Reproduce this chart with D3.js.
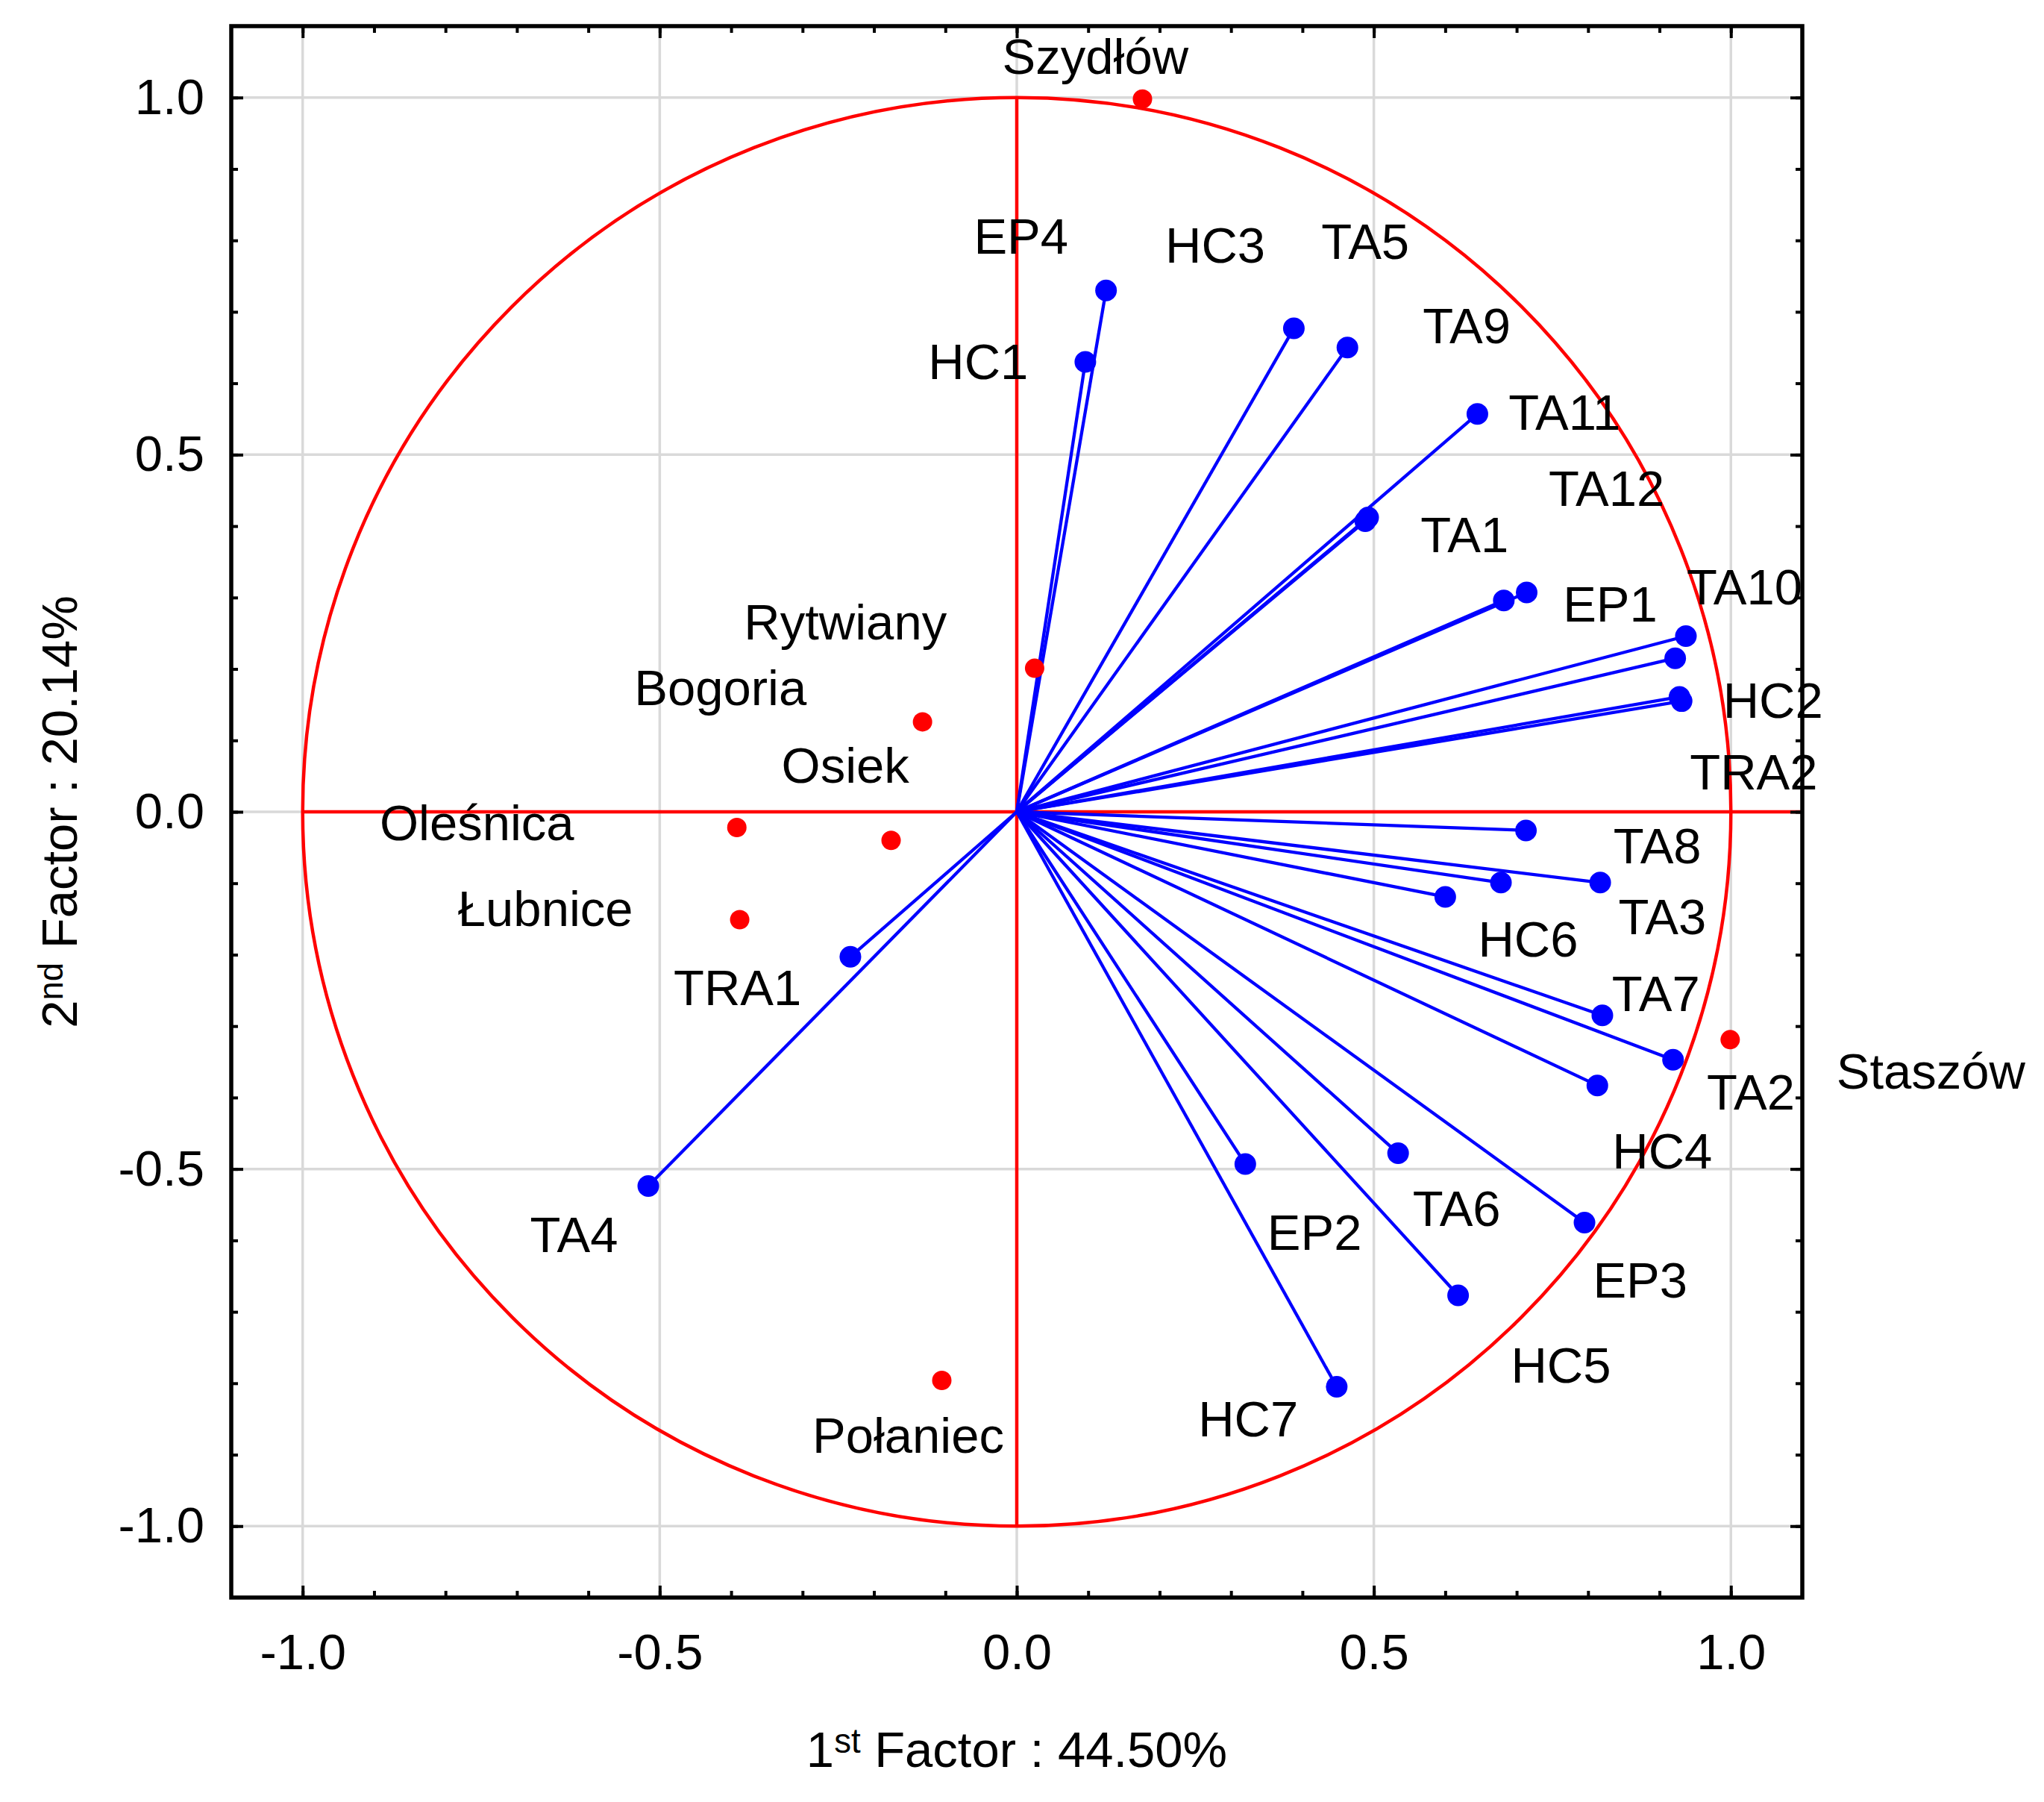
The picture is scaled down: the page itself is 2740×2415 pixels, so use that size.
<!DOCTYPE html>
<html>
<head>
<meta charset="utf-8">
<script src="https://cdn.jsdelivr.net/npm/d3@7"></script>
<style>
  body { margin: 0; background: #ffffff; }
  text { font-family: "Liberation Sans", Arial, Helvetica, sans-serif; fill: #000; }
</style>
</head>
<body>
<svg id="chart" width="2740" height="2415"></svg>
<script>
// ---------------- data ----------------
// Variables (factor loadings) – blue vectors
const varNames  = ["EP4","HC1","HC3","TA5","TA11","TA1","TA9","TA12","EP1","TA10","HC2","TRA2","",
                   "TA8","TA3","HC6","","TA7","TA2","HC4","TA6","EP2","EP3","HC5","HC7","TRA1","TA4"];
const varX      = [0.125,0.096,0.388,0.463,0.645,0.492,0.488,0.682,0.714,0.937,0.922,0.928,0.931,
                   0.713,0.817,0.678,0.600,0.820,0.919,0.813,0.534,0.320,0.795,0.618,0.448,-0.233,-0.516];
const varY      = [0.730,0.630,0.677,0.650,0.557,0.412,0.407,0.296,0.307,0.246,0.215,0.161,0.155,
                   -0.026,-0.099,-0.099,-0.119,-0.285,-0.347,-0.383,-0.478,-0.493,-0.575,-0.677,-0.805,-0.203,-0.524];
// where the plotting program put each variable's label (data units)
const varLabelX = [0.006,-0.054,0.278,0.488,0.767,0.627,0.630,0.826,0.831,1.019,1.059,1.032,0,
                   0.897,0.904,0.716,0,0.895,1.028,0.904,0.616,0.417,0.873,0.762,0.324,-0.391,-0.620];
const varLabelY = [0.807,0.631,0.794,0.799,0.560,0.389,0.681,0.453,0.292,0.316,0.157,0.057,0,
                   -0.047,-0.146,-0.177,0,-0.254,-0.392,-0.474,-0.555,-0.588,-0.655,-0.774,-0.849,-0.245,-0.591];

// Cases (towns) – red points
const caseNames  = ["Szydłów","Rytwiany","Bogoria","Osiek","Oleśnica","Łubnice","Staszów","Połaniec"];
const caseX      = [0.176, 0.025, -0.132, -0.176, -0.392, -0.388, 0.999, -0.105];
const caseY      = [0.998, 0.201, 0.126, -0.040, -0.022, -0.151, -0.319, -0.796];
const caseLabelX = [0.110, -0.240, -0.415, -0.240, -0.756, -0.660, 1.280, -0.152];
const caseLabelY = [1.058, 0.266, 0.175, 0.066, -0.015, -0.135, -0.362, -0.872];

// Axes
const axisDomain   = [-1.1, 1.1];
const majorTicks   = [-1.0, -0.5, 0.0, 0.5, 1.0];
const tickLabels   = ["-1.0", "-0.5", "0.0", "0.5", "1.0"];
const minorTicks   = d3.range(-10, 11).map(d => d / 10);
const xTitleParts  = ["1", "st", " Factor : 44.50%"];
const yTitleParts  = ["2", "nd", " Factor : 20.14%"];

// ---------------- layout ----------------
const svg = d3.select("#chart");
const L = 310, R = 2416, T = 35, B = 2141;
const FS = 67;
const BLUE = "#0000ff", RED = "#ff0000", GRID = "#d9d9d9";

const x = d3.scaleLinear().domain(axisDomain).range([L, R]);
const y = d3.scaleLinear().domain(axisDomain).range([B, T]);

svg.append("rect").attr("width", 2740).attr("height", 2415).attr("fill", "#fff");

// gridlines
const grid = svg.append("g").attr("stroke", GRID).attr("stroke-width", 3.5);
grid.selectAll("line.v").data(majorTicks).join("line").attr("class", "v")
  .attr("x1", d => x(d)).attr("x2", d => x(d)).attr("y1", T).attr("y2", B);
grid.selectAll("line.h").data(majorTicks).join("line").attr("class", "h")
  .attr("y1", d => y(d)).attr("y2", d => y(d)).attr("x1", L).attr("x2", R);

// unit circle and red axes
const redG = svg.append("g").attr("stroke", RED).attr("stroke-width", 4.5).attr("fill", "none");
redG.append("circle").attr("cx", x(0)).attr("cy", y(0)).attr("r", x(1) - x(0));
redG.append("line").attr("x1", x(-1)).attr("x2", x(axisDomain[1])).attr("y1", y(0)).attr("y2", y(0));
redG.append("line").attr("x1", x(0)).attr("x2", x(0)).attr("y1", y(1)).attr("y2", y(-1));

// variables
const vars = varNames.map((n, i) => ({name: n, x: varX[i], y: varY[i], lx: varLabelX[i], ly: varLabelY[i]}));
svg.append("g").attr("stroke", BLUE).attr("stroke-width", 4.3)
  .selectAll("line").data(vars).join("line")
  .attr("x1", x(0)).attr("y1", y(0))
  .attr("x2", d => x(d.x)).attr("y2", d => y(d.y));
svg.append("g").attr("fill", BLUE)
  .selectAll("circle").data(vars).join("circle")
  .attr("cx", d => x(d.x)).attr("cy", d => y(d.y)).attr("r", 14.5);

// cases
const cases = caseNames.map((n, i) => ({name: n, x: caseX[i], y: caseY[i], lx: caseLabelX[i], ly: caseLabelY[i]}));
svg.append("g").attr("fill", RED)
  .selectAll("circle").data(cases).join("circle")
  .attr("cx", d => x(d.x)).attr("cy", d => y(d.y)).attr("r", 13);

// labels
const labelG = svg.append("g").attr("font-size", FS).attr("text-anchor", "middle");
labelG.selectAll("text.v").data(vars.filter(d => d.name !== "")).join("text").attr("class", "v")
  .attr("x", d => x(d.lx)).attr("y", d => y(d.ly)).attr("dy", "0.36em").text(d => d.name);
labelG.selectAll("text.c").data(cases).join("text").attr("class", "c")
  .attr("x", d => x(d.lx)).attr("y", d => y(d.ly)).attr("dy", "0.36em").text(d => d.name);

// frame
svg.append("rect").attr("x", L).attr("y", T).attr("width", R - L).attr("height", B - T)
  .attr("fill", "none").attr("stroke", "#000").attr("stroke-width", 5.5);

// axes with inward ticks
function styleAxis(g) {
  g.select(".domain").remove();
  g.selectAll(".tick line").attr("stroke", "#000").attr("stroke-width", 4);
  g.selectAll(".tick text").attr("font-size", FS).attr("fill", "#000")
    .attr("font-family", '"Liberation Sans", Arial, sans-serif');
}
const fmt = d => tickLabels[majorTicks.indexOf(d)];
const minorLen = 9, majorLen = 16;

svg.append("g").attr("transform", `translate(0,${B})`)
  .call(d3.axisBottom(x).tickValues(minorTicks).tickSize(-minorLen).tickFormat("")).call(styleAxis);
svg.append("g").attr("transform", `translate(0,${B})`)
  .call(d3.axisBottom(x).tickValues(majorTicks).tickSize(-majorLen).tickPadding(48).tickFormat(fmt)).call(styleAxis);

svg.append("g").attr("transform", `translate(0,${T})`)
  .call(d3.axisTop(x).tickValues(minorTicks).tickSize(-minorLen).tickFormat("")).call(styleAxis);
svg.append("g").attr("transform", `translate(0,${T})`)
  .call(d3.axisTop(x).tickValues(majorTicks).tickSize(-majorLen).tickFormat("")).call(styleAxis);

svg.append("g").attr("transform", `translate(${L},0)`)
  .call(d3.axisLeft(y).tickValues(minorTicks).tickSize(-minorLen).tickFormat("")).call(styleAxis);
svg.append("g").attr("transform", `translate(${L},0)`)
  .call(d3.axisLeft(y).tickValues(majorTicks).tickSize(-majorLen).tickPadding(36).tickFormat(fmt)).call(styleAxis);

svg.append("g").attr("transform", `translate(${R},0)`)
  .call(d3.axisRight(y).tickValues(minorTicks).tickSize(-minorLen).tickFormat("")).call(styleAxis);
svg.append("g").attr("transform", `translate(${R},0)`)
  .call(d3.axisRight(y).tickValues(majorTicks).tickSize(-majorLen).tickFormat("")).call(styleAxis);

// axis titles
function title(g, parts) {
  const t = g.append("text").attr("font-size", FS).attr("text-anchor", "middle");
  t.append("tspan").text(parts[0]);
  t.append("tspan").attr("font-size", FS * 0.68).attr("dy", -19).text(parts[1]);
  t.append("tspan").attr("dy", 19).text(parts[2]);
}
title(svg.append("g").attr("transform", `translate(${(L + R) / 2},2368)`), xTitleParts);
title(svg.append("g").attr("transform", `translate(103,${(T + B) / 2}) rotate(-90)`), yTitleParts);
</script>
</body>
</html>
